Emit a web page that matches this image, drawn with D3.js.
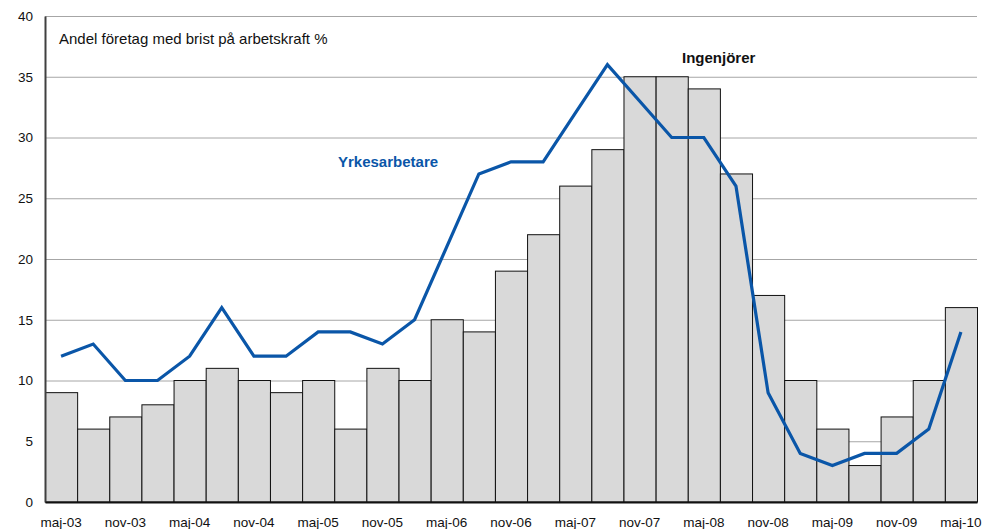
<!DOCTYPE html>
<html><head><meta charset="utf-8">
<script src="https://cdn.jsdelivr.net/npm/d3@7"></script>
<style>body{margin:0;background:#fff}svg{display:block;font-family:"Liberation Sans",Arial,sans-serif}</style>
</head><body><svg id="c" width="983" height="529"></svg>
<script>
const categories = ["maj-03","aug-03","nov-03","feb-04","maj-04","aug-04","nov-04","feb-05","maj-05","aug-05","nov-05","feb-06","maj-06","aug-06","nov-06","feb-07","maj-07","aug-07","nov-07","feb-08","maj-08","aug-08","nov-08","feb-09","maj-09","aug-09","nov-09","feb-10","maj-10"];
const ingenjorer = [9,6,7,8,10,11,10,9,10,6,11,10,15,14,19,22,26,29,35,35,34,27,17,10,6,3,7,10,16];
const yrkesarbetare = [12,13,10,10,12,16,12,12,14,14,13,15,21,27,28,28,32,36,33,30,30,26,9,4,3,4,4,6,14];
const yTicks = [0,5,10,15,20,25,30,35,40];
const xTickLabels = categories.filter((d,i)=>i%2===0);

const svg = d3.select("#c");
const L=45, R=977, T=16, B=502;
const x = d3.scaleBand().domain(categories).range([L,R]).padding(0);
const y = d3.scaleLinear().domain([0,40]).range([B,T]);

// gridlines
svg.append("g").selectAll("line").data(yTicks.filter(d=>d>0)).join("line")
  .attr("x1",L).attr("x2",R).attr("y1",d=>y(d)+0.5).attr("y2",d=>y(d)+0.5)
  .attr("stroke","#a6a6a6").attr("stroke-width",1);

// bars
svg.append("g").selectAll("rect").data(ingenjorer).join("rect")
  .attr("x",(d,i)=>x(categories[i])+0.5).attr("y",d=>y(d))
  .attr("width",x.bandwidth()).attr("height",d=>B-y(d))
  .attr("fill","#d9d9d9").attr("stroke","#111").attr("stroke-width",1);

// y axis
const ya = svg.append("g").attr("transform",`translate(${L},0)`)
  .call(d3.axisLeft(y).tickValues(yTicks).tickSize(0).tickPadding(12));
ya.select(".domain").attr("stroke","#404040").attr("stroke-width",2);
ya.selectAll("text").attr("font-size",13.5).attr("fill","#111").attr("font-family","Liberation Sans, Arial, sans-serif");

// x axis
const xa = svg.append("g").attr("transform",`translate(0,${B})`)
  .call(d3.axisBottom(x).tickValues(xTickLabels).tickSize(0).tickPadding(15));
xa.select(".domain").attr("stroke","#111").attr("stroke-width",2);
xa.selectAll("text").attr("font-size",13.5).attr("fill","#111").attr("font-family","Liberation Sans, Arial, sans-serif");

// line
const line = d3.line().x((d,i)=>x(categories[i])+x.bandwidth()/2).y(d=>y(d));
svg.append("path").datum(yrkesarbetare).attr("d",line)
  .attr("fill","none").attr("stroke","#0a56a8").attr("stroke-width",3.2).attr("stroke-linejoin","miter");

// labels
svg.append("text").attr("x",59).attr("y",44).attr("font-size",15).attr("fill","#111")
  .text("Andel företag med brist på arbetskraft %");
svg.append("text").attr("x",338).attr("y",167).attr("font-size",15).attr("font-weight","bold").attr("fill","#0a56a8")
  .text("Yrkesarbetare");
svg.append("text").attr("x",682).attr("y",63).attr("font-size",15).attr("font-weight","bold").attr("fill","#111")
  .text("Ingenjörer");
</script></body></html>
